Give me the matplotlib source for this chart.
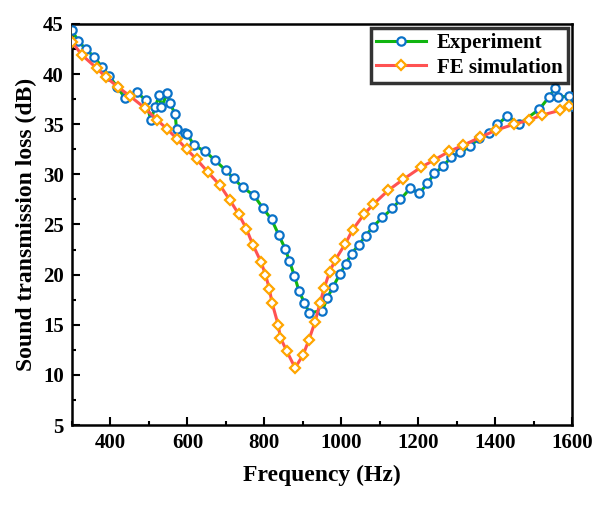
import numpy as np
import matplotlib.pyplot as plt
from matplotlib.ticker import MultipleLocator

plt.rcParams['font.family'] = ['Liberation Serif', 'DejaVu Serif']
plt.rcParams['font.weight'] = 'bold'

# Experiment (measured)
freq_exp = [300, 316, 336, 358, 378, 397, 418, 438, 468, 492, 505, 516, 527, 532,
            548, 555, 568, 572, 594, 600, 617, 646, 672, 700, 720, 744, 773, 797,
            819, 837, 854, 865, 878, 890, 904, 917, 951, 964, 979, 997, 1012, 1027,
            1046, 1064, 1083, 1107, 1133, 1154, 1179, 1203, 1224, 1242, 1265, 1285,
            1310, 1335, 1358, 1384, 1406, 1432, 1462, 1515, 1540, 1556, 1563, 1593,
            1600]
stl_exp = [44.4, 43.3, 42.5, 41.7, 40.7, 39.8, 38.7, 37.6, 38.2, 37.4, 35.4, 36.7,
           37.9, 36.7, 38.1, 37.1, 36.0, 34.5, 34.1, 34.0, 32.9, 32.3, 31.4, 30.4,
           29.6, 28.7, 27.9, 26.6, 25.5, 24.0, 22.6, 21.4, 19.9, 18.4, 17.2, 16.2,
           16.4, 17.7, 18.8, 20.1, 21.1, 22.1, 23.0, 23.9, 24.8, 25.7, 26.6, 27.5,
           28.6, 28.1, 29.1, 30.1, 30.8, 31.7, 32.2, 32.8, 33.6, 34.1, 35.0, 35.8,
           35.0, 36.5, 37.7, 38.6, 37.7, 37.8, 36.8]

# FE simulation
freq_sim = [300, 326, 364, 388, 420, 451, 490, 522, 548, 574, 598, 624, 654, 685,
            711, 734, 753, 770, 791, 803, 813, 820, 836, 842, 858, 880, 901, 916,
            932, 945, 956, 970, 985, 1011, 1030, 1059, 1083, 1122, 1161, 1207, 1240,
            1281, 1317, 1361, 1402, 1449, 1487, 1521, 1570, 1593]
stl_sim = [43.2, 41.9, 40.6, 39.7, 38.7, 37.8, 36.6, 35.4, 34.5, 33.5, 32.5, 31.5,
           30.2, 28.9, 27.4, 26.0, 24.6, 23.0, 21.3, 20.0, 18.6, 17.2, 15.0, 13.7,
           12.4, 10.7, 12.0, 13.5, 15.3, 17.2, 18.7, 20.3, 21.5, 23.1, 24.5, 26.0,
           27.0, 28.4, 29.5, 30.7, 31.4, 32.3, 32.9, 33.7, 34.4, 35.0, 35.4, 35.9,
           36.4, 36.8]

fig = plt.figure(figsize=(6.03, 5.07), dpi=100)
ax = fig.add_axes([0.1194, 0.1617, 0.8292, 0.7910])

ax.plot(freq_exp, stl_exp, '-', color='#10b510', linewidth=2.2,
        marker='o', markersize=6, markerfacecolor='white',
        markeredgecolor='#0a72c8', markeredgewidth=1.6, label='Experiment', zorder=3)
ax.plot(freq_sim, stl_sim, '-', color='#ff5252', linewidth=2.2,
        marker='D', markersize=5.5, markerfacecolor='white',
        markeredgecolor='#ffa500', markeredgewidth=1.6, label='FE simulation', zorder=4)

ax.set_xlim(300, 1600)
ax.set_ylim(5, 45)
ax.xaxis.set_major_locator(MultipleLocator(200))
ax.xaxis.set_minor_locator(MultipleLocator(100))
ax.yaxis.set_major_locator(MultipleLocator(5))
ax.yaxis.set_minor_locator(MultipleLocator(2.5))
ax.tick_params(which='both', direction='in', top=False, right=False,
               labelsize=15, width=1.5, pad=6)
ax.tick_params(which='major', length=6)
ax.tick_params(which='minor', length=3)
for s in ax.spines.values():
    s.set_linewidth(1.8)

ax.set_xlabel('Frequency (Hz)', fontsize=17, fontweight='bold', labelpad=8)
ax.set_ylabel('Sound transmission loss (dB)', fontsize=17, fontweight='bold', labelpad=4)

leg = ax.legend(loc='upper right', fontsize=15, frameon=True, fancybox=False,
                edgecolor='black', handlelength=2.4, handletextpad=0.5,
                borderpad=0.25, labelspacing=0.2, borderaxespad=0.2,
                bbox_to_anchor=(1.0, 1.0))
leg.get_frame().set_linewidth(2.5)
for t in leg.get_texts():
    t.set_fontweight('bold')

fig.savefig('out.png', dpi=100)
